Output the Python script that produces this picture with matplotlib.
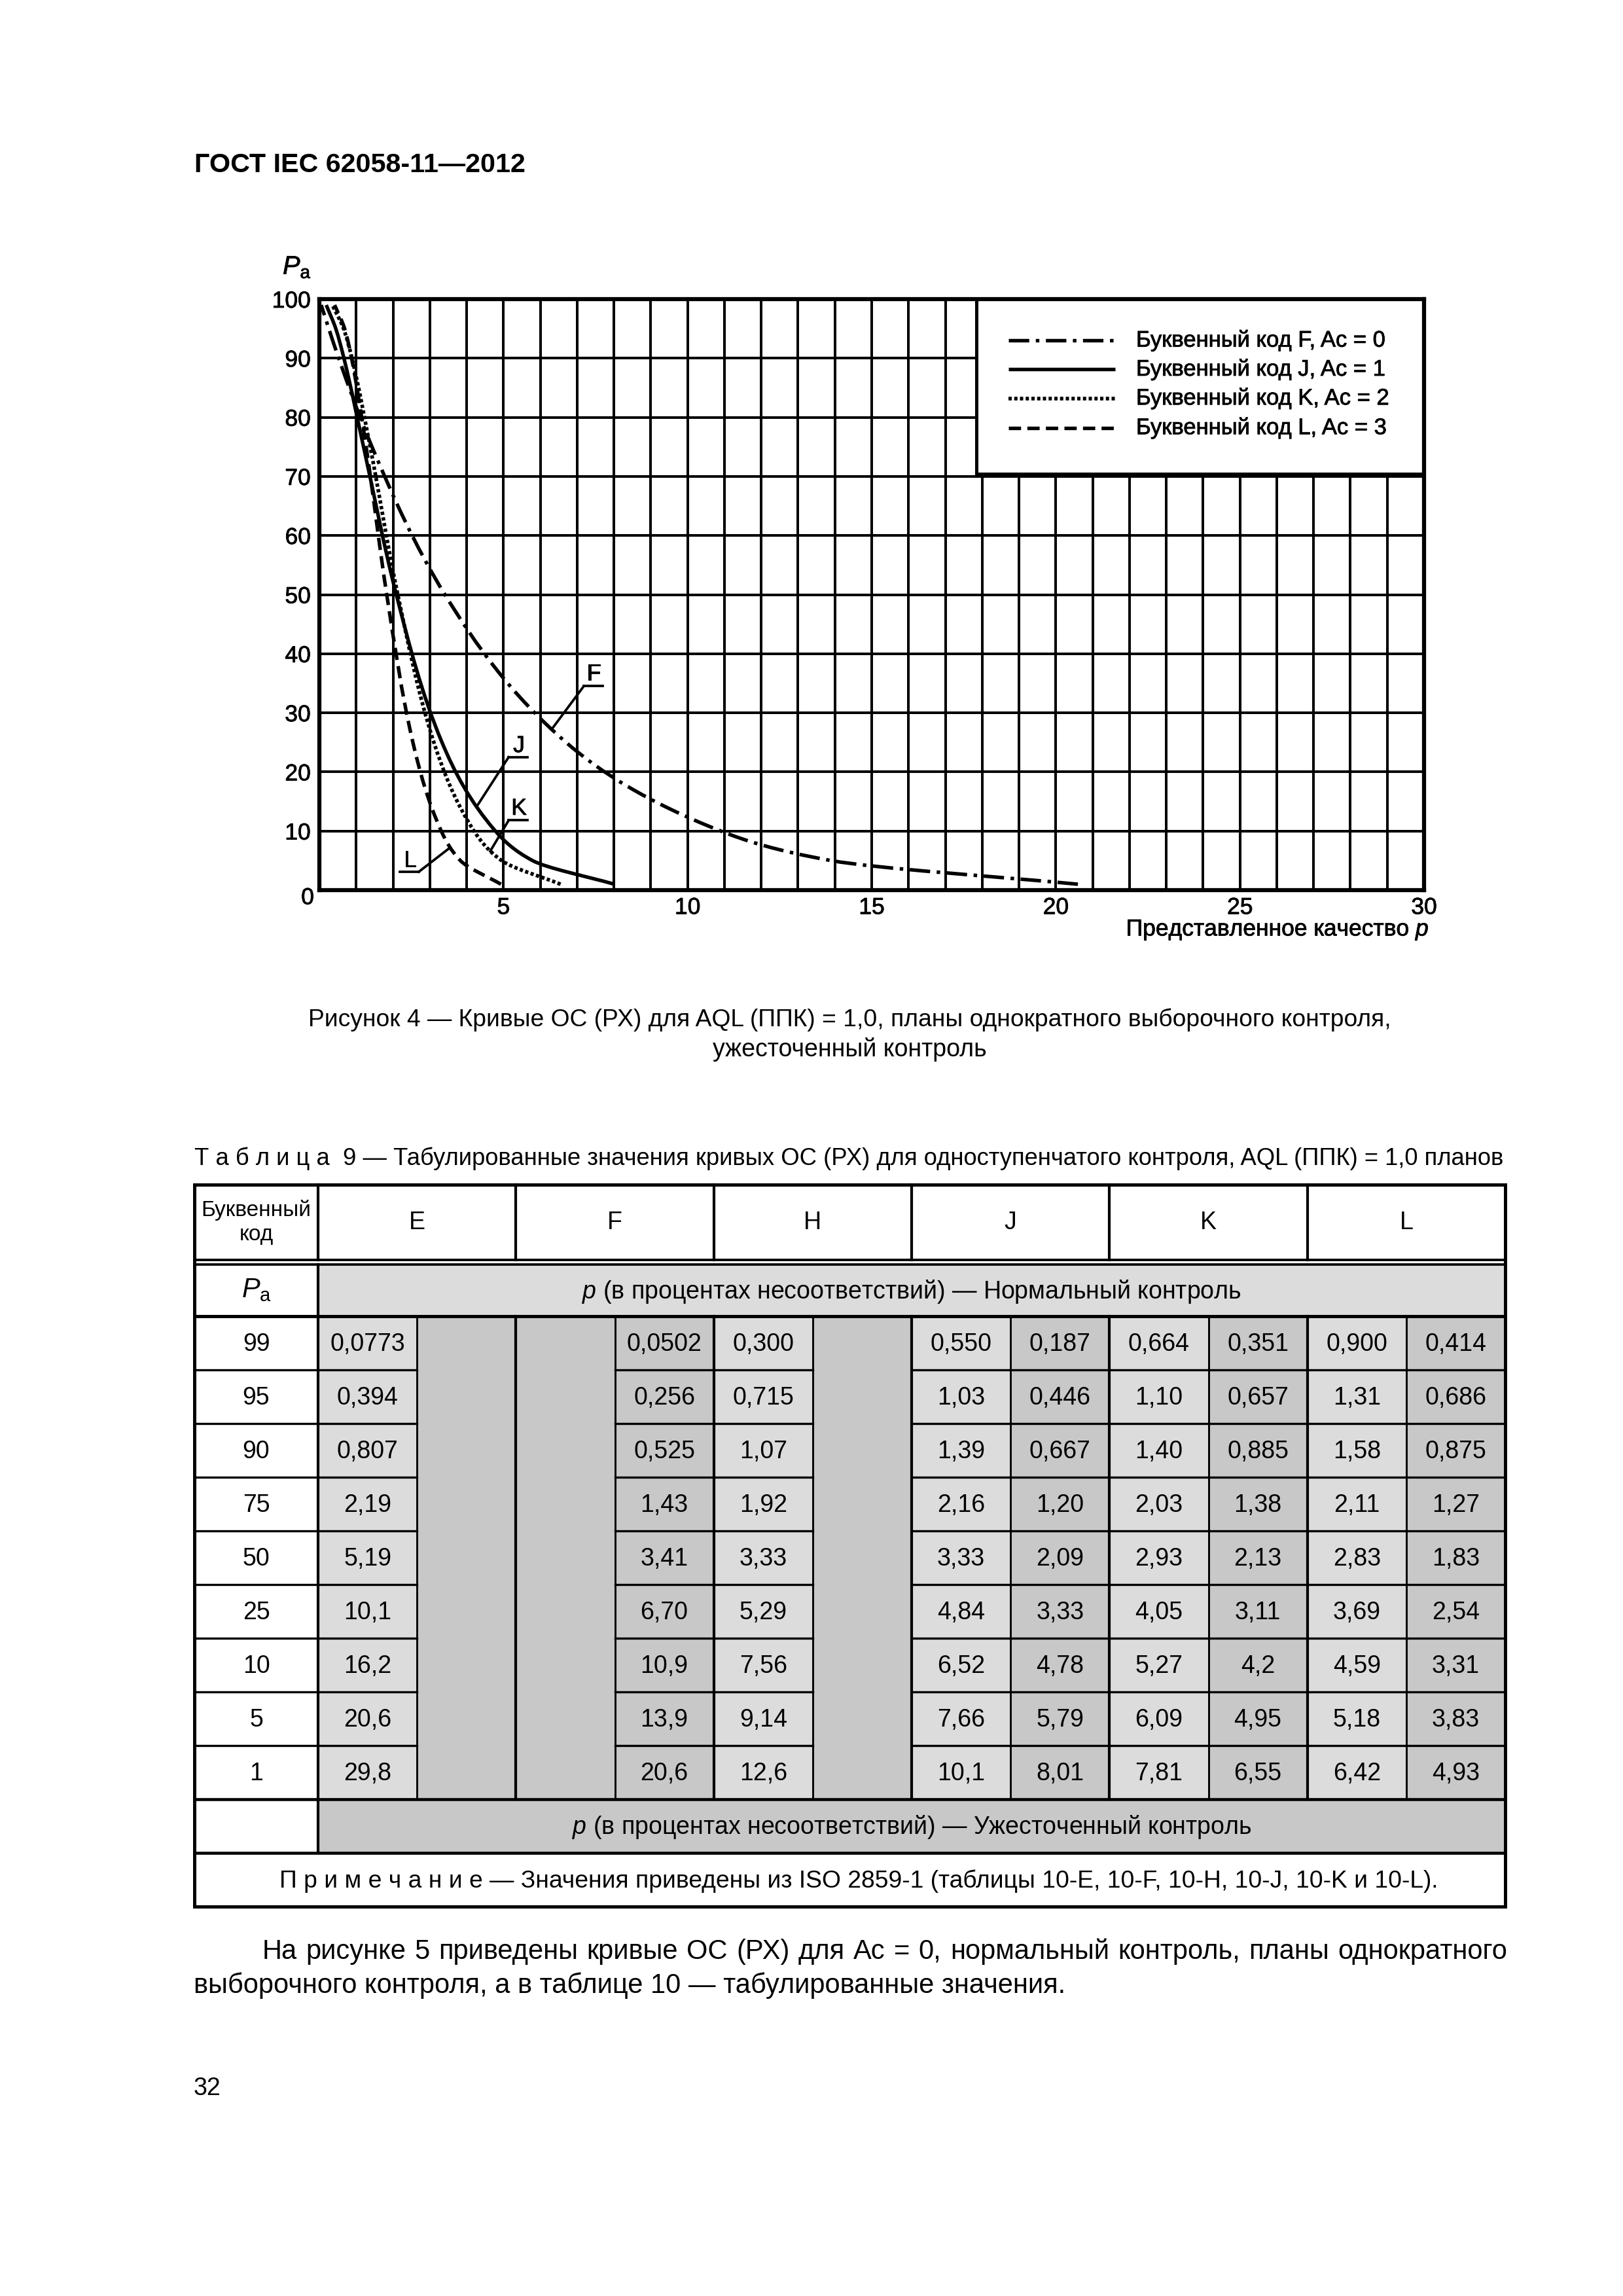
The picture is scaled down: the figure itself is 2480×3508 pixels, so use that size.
import numpy as np
import matplotlib
matplotlib.use('Agg')
import matplotlib.pyplot as plt
from matplotlib.patches import Rectangle, PathPatch
from matplotlib.path import Path
from matplotlib import patheffects as pe

plt.rcParams['font.family'] = ['Liberation Sans', 'DejaVu Sans']
plt.rcParams['mathtext.fontset'] = 'custom'
plt.rcParams['mathtext.rm'] = 'Liberation Sans'
plt.rcParams['mathtext.it'] = 'Liberation Sans:italic'
plt.rcParams['lines.scale_dashes'] = False

W, H, DPI = 2480, 3508, 300

# ---------------- data ----------------
pa_levels = [99, 95, 90, 75, 50, 25, 10, 5, 1]
code_letters = ['E', 'F', 'H', 'J', 'K', 'L']
normal_E = ['0,0773', '0,394', '0,807', '2,19', '5,19', '10,1', '16,2', '20,6', '29,8']
tight_E = None
normal_F = None
tight_F = ['0,0502', '0,256', '0,525', '1,43', '3,41', '6,70', '10,9', '13,9', '20,6']
normal_H = ['0,300', '0,715', '1,07', '1,92', '3,33', '5,29', '7,56', '9,14', '12,6']
tight_H = None
normal_J = ['0,550', '1,03', '1,39', '2,16', '3,33', '4,84', '6,52', '7,66', '10,1']
tight_J = ['0,187', '0,446', '0,667', '1,20', '2,09', '3,33', '4,78', '5,79', '8,01']
normal_K = ['0,664', '1,10', '1,40', '2,03', '2,93', '4,05', '5,27', '6,09', '7,81']
tight_K = ['0,351', '0,657', '0,885', '1,38', '2,13', '3,11', '4,2', '4,95', '6,55']
normal_L = ['0,900', '1,31', '1,58', '2,11', '2,83', '3,69', '4,59', '5,18', '6,42']
tight_L = ['0,414', '0,686', '0,875', '1,27', '1,83', '2,54', '3,31', '3,83', '4,93']

curve_codes = ['F', 'J', 'K', 'L']
curve_ac = [0, 1, 2, 3]
curve_values = [tight_F, tight_J, tight_K, tight_L]

x_ticks = [5, 10, 15, 20, 25, 30]
y_ticks = [10, 20, 30, 40, 50, 60, 70, 80, 90, 100]


def num(s):
    return float(s.replace(',', '.'))


# monotone cubic (PCHIP) of p as a function of Pa, drawn as Bezier segments
def pchip_slopes(y, x):
    h = np.diff(y)
    d = np.diff(x) / h
    n = len(y)
    m = np.zeros(n)
    m[0], m[-1] = d[0], d[-1]
    for k in range(1, n - 1):
        if d[k - 1] * d[k] <= 0:
            m[k] = 0.0
        else:
            w1 = 2 * h[k] + h[k - 1]
            w2 = h[k] + 2 * h[k - 1]
            m[k] = (w1 + w2) / (w1 / d[k - 1] + w2 / d[k])
    return m


def curve_path(vals):
    y = np.array(pa_levels, dtype=float)[::-1]
    x = np.array([num(v) for v in vals])[::-1]
    m = pchip_slopes(y, x)
    verts = [(x[0], y[0])]
    codes = [Path.MOVETO]
    for k in range(len(y) - 1):
        h = y[k + 1] - y[k]
        verts += [(x[k] + m[k] * h / 3, y[k] + h / 3),
                  (x[k + 1] - m[k + 1] * h / 3, y[k + 1] - h / 3),
                  (x[k + 1], y[k + 1])]
        codes += [Path.CURVE4] * 3
    return Path(verts, codes)


def curve_x_at(vals, pa):
    y = np.array(pa_levels, dtype=float)[::-1]
    x = np.array([num(v) for v in vals])[::-1]
    m = pchip_slopes(y, x)
    k = int(np.searchsorted(y, pa) - 1)
    k = max(0, min(k, len(y) - 2))
    h = y[k + 1] - y[k]
    t = (pa - y[k]) / h
    h00 = 2 * t ** 3 - 3 * t ** 2 + 1
    h10 = t ** 3 - 2 * t ** 2 + t
    h01 = -2 * t ** 3 + 3 * t ** 2
    h11 = t ** 3 - t ** 2
    return h00 * x[k] + h10 * h * m[k] + h01 * x[k + 1] + h11 * h * m[k + 1]


# ---------------- figure ----------------
fig = plt.figure(figsize=(W / DPI, H / DPI), dpi=DPI)
pg = fig.add_axes([0, 0, 1, 1])
pg.set_xlim(0, W)
pg.set_ylim(H, 0)
pg.axis('off')
renderer = fig.canvas.get_renderer()
heavy = [pe.withStroke(linewidth=0.2, foreground='black')]


def fit_text(x, y, s, target_w, size0=9, ha='left', va='center', **kw):
    t = pg.text(x, y, s, fontsize=size0, ha=ha, va=va, **kw)
    bb = t.get_window_extent(renderer)
    t.set_fontsize(size0 * target_w / bb.width)
    return t


def justify(x0, x1, y, s, size):
    words = s.split(' ')
    ts = [pg.text(0, y, w, fontsize=size, ha='left', va='center') for w in words]
    widths = [t.get_window_extent(renderer).width for t in ts]
    gap = (x1 - x0 - sum(widths)) / (len(words) - 1)
    x = x0
    for t, w in zip(ts, widths):
        t.set_x(x)
        x += w + gap


# header
fit_text(297, 252, 'ГОСТ IEC 62058-11—2012', 506, size0=10, weight='bold')

# ---------------- chart ----------------
CL, CR, CT, CB = 488, 2176, 457, 1360
ax = fig.add_axes([CL / W, 1 - CB / H, (CR - CL) / W, (CB - CT) / H])
ax.set_xlim(0, 30)
ax.set_ylim(0, 100)
ax.set_xticks(x_ticks)
ax.set_xticks(np.arange(0, 31, 1), minor=True)
ax.set_yticks(y_ticks)
ax.set_xticklabels([str(v) for v in x_ticks])
ax.set_yticklabels([str(v) for v in y_ticks])
ax.tick_params(which='both', length=0, labelsize=8.5, colors='black')
ax.tick_params(axis='x', pad=2.5)
ax.tick_params(axis='y', pad=3.2)
for lab in ax.get_xticklabels() + ax.get_yticklabels():
    lab.set_path_effects(heavy)
ax.grid(True, which='major', color='black', lw=0.95)
ax.grid(True, which='minor', axis='x', color='black', lw=0.95)
ax.set_axisbelow(True)
for sp in ax.spines.values():
    sp.set_linewidth(1.5)
    sp.set_zorder(5)

styles = {
    'F': dict(ls=(0, (7.5, 2.4, 1.3, 2.4)), lw=1.3),
    'J': dict(ls='-', lw=1.3),
    'K': dict(ls=(0, (1.2, 0.9)), lw=1.35),
    'L': dict(ls=(0, (4.5, 2.3)), lw=1.3),
}
for code, vals in zip(curve_codes, curve_values):
    st = styles[code]
    ax.add_patch(PathPatch(curve_path(vals), fill=False, edgecolor='black',
                           linestyle=st['ls'], lw=st['lw'], capstyle='butt', zorder=3))

# leader labels (letter position, underline, anchor, target Pa on curve)
leaders = {
    'F': dict(txt=(7.45, 36.6), ul=(7.18, 7.70, 34.5), anchor=(7.18, 34.5), pa=27.2),
    'J': dict(txt=(5.42, 24.4), ul=(5.14, 5.66, 22.5), anchor=(5.14, 22.5), pa=14.1),
    'K': dict(txt=(5.42, 13.8), ul=(5.14, 5.66, 11.8), anchor=(5.14, 11.8), pa=6.6),
    'L': dict(txt=(2.46, 5.0), ul=(2.18, 2.70, 3.1), anchor=(2.70, 3.1), pa=7.2),
}
for code, vals in zip(curve_codes, curve_values):
    d = leaders[code]
    xc = curve_x_at(vals, d['pa'])
    ax.text(d['txt'][0], d['txt'][1], code, fontsize=8.5, ha='center', va='center',
            zorder=4, path_effects=heavy)
    ax.plot([d['ul'][0], d['ul'][1]], [d['ul'][2], d['ul'][2]], color='black', lw=0.9, zorder=4)
    ax.plot([d['anchor'][0], xc], [d['anchor'][1], d['pa']], color='black', lw=0.9, zorder=4)

# legend box
ax.add_patch(Rectangle((17.85, 70.4), 30 - 17.85, 29.6, facecolor='white',
                       edgecolor='black', lw=1.2, zorder=2))
leg_y = [93.0, 88.1, 83.2, 78.2]
for code, ac, yy in zip(curve_codes, curve_ac, leg_y):
    ax.plot([18.72, 21.62], [yy, yy], color='black', solid_capstyle='butt',
            dash_capstyle='butt', zorder=3, **styles[code])
    ax.text(22.18, yy, f'Буквенный код {code}, Ac = {ac}', fontsize=8.3,
            ha='left', va='center', zorder=3, path_effects=heavy)

# axis texts on page
pg.text(470, 1372, '0', fontsize=8.5, ha='center', va='center', path_effects=heavy)
pg.text(2183, 1421, 'Представленное качество $p$', fontsize=8.5, ha='right', va='center',
        path_effects=heavy)
pg.text(454, 408, r'$P_\mathrm{a}$', fontsize=9.5, ha='center', va='center', path_effects=heavy)

# caption
fit_text(1298, 1558, 'Рисунок 4 — Кривые ОС (РХ) для AQL (ППК) = 1,0, планы однократного выборочного контроля,',
         1659, ha='center')
pg.text(1298, 1603, 'ужесточенный контроль', fontsize=9, ha='center', va='center')

# table title
fit_text(297, 1770, 'Т а б л и ц а  9 — Табулированные значения кривых ОС (РХ) для одноступенчатого контроля, AQL (ППК) = 1,0 планов',
         2003)

# ---------------- table ----------------
TL, TR, C0 = 297, 2300, 486
hw = (TR - C0) / 12
xe = [C0 + i * hw for i in range(13)]
T0 = 1810
HB, HB2 = T0 + 115, T0 + 122
PB, RH = HB2 + 79, 82
rows_top = [PB + i * RH for i in range(len(pa_levels))]
DB = PB + len(pa_levels) * RH
TB = DB + RH
NB = TB + RH
LIGHT, DARK = '#dcdcdc', '#c8c8c8'

columns = [normal_E, tight_E, normal_F, tight_F, normal_H, tight_H,
           normal_J, tight_J, normal_K, tight_K, normal_L, tight_L]


def rect(x0, y0, x1, y1, fc):
    pg.add_patch(Rectangle((x0, y0), x1 - x0, y1 - y0, facecolor=fc, edgecolor='none', zorder=1))


def hl(x0, x1, y, lw):
    pg.plot([x0, x1], [y, y], color='black', lw=lw, solid_capstyle='projecting', zorder=3)


def vl(x, y0, y1, lw):
    pg.plot([x, x], [y0, y1], color='black', lw=lw, solid_capstyle='projecting', zorder=3)


rect(C0, HB2, TR, PB, LIGHT)
for j, col in enumerate(columns):
    if col is None:
        rect(xe[j], PB, xe[j + 1], DB, DARK)
    else:
        rect(xe[j], PB, xe[j + 1], DB, LIGHT if j % 2 == 0 else DARK)
rect(C0, DB, TR, TB, DARK)

# lines
hl(TL, TR, T0, 1.2)
hl(TL, TR, HB, 0.9)
hl(TL, TR, HB2, 0.9)
hl(TL, TR, PB, 1.2)
hl(TL, TR, DB, 1.1)
hl(TL, TR, TB, 1.1)
hl(TL, TR, NB, 1.2)
vl(TL, T0, NB, 1.2)
vl(TR, T0, NB, 1.2)
vl(C0, T0, HB, 1.0)
vl(C0, HB2, TB, 1.0)
for j in range(2, 12, 2):
    vl(xe[j], T0, HB, 1.0)
for j in range(1, 12):
    vl(xe[j], PB, DB, 1.0 if j % 2 == 0 else 0.7)
for i in range(1, len(pa_levels)):
    y = rows_top[i]
    hl(TL, C0, y, 0.8)
    for j, col in enumerate(columns):
        if col is not None:
            hl(xe[j], xe[j + 1], y, 0.8)

# header texts
pg.text((TL + C0) / 2, (T0 + HB) / 2, 'Буквенный\nкод', fontsize=8, ha='center', va='center',
        linespacing=1.25)
for g, letter in enumerate(code_letters):
    pg.text((xe[2 * g] + xe[2 * g + 2]) / 2, (T0 + HB) / 2, letter, fontsize=9, ha='center', va='center')
pg.text((TL + C0) / 2, (HB2 + PB) / 2, r'$P_\mathrm{a}$', fontsize=10, ha='center', va='center')
pg.text((C0 + TR) / 2, (HB2 + PB) / 2 + 2, '$p$ (в процентах несоответствий) — Нормальный контроль',
        fontsize=9, ha='center', va='center')
pg.text((C0 + TR) / 2, (DB + TB) / 2 + 2, '$p$ (в процентах несоответствий) — Ужесточенный контроль',
        fontsize=9, ha='center', va='center')

for i, pa in enumerate(pa_levels):
    yc = rows_top[i] + RH / 2 + 2
    pg.text((TL + C0) / 2, yc, str(pa), fontsize=9, ha='center', va='center')
    for j, col in enumerate(columns):
        if col is not None:
            pg.text((xe[j] + xe[j + 1]) / 2, yc, col[i], fontsize=9, ha='center', va='center')

fit_text(1312, (TB + NB) / 2 + 2,
         'П р и м е ч а н и е — Значения приведены из ISO 2859-1 (таблицы 10-E, 10-F, 10-H, 10-J, 10-K и 10-L).',
         1770, ha='center')

# body paragraph
t2 = fit_text(296, 3034, 'выборочного контроля, а в таблице 10 — табулированные значения.', 1335, size0=10.5)
body_size = t2.get_fontsize()
justify(401, 2303, 2982,
        'На рисунке 5 приведены кривые ОС (РХ) для Ac = 0, нормальный контроль, планы однократного',
        body_size)

pg.text(296, 3191, '32', fontsize=9, ha='left', va='center')

fig.savefig('out.png', dpi=DPI)
